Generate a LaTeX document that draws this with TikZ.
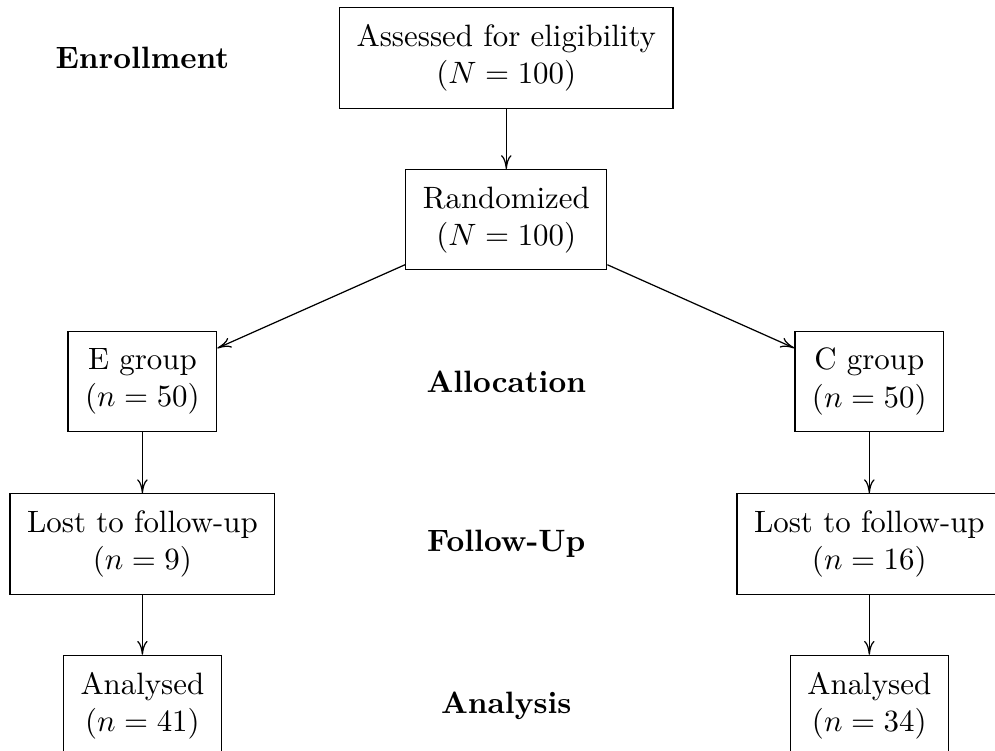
\documentclass[tikz,border=0pt]{standalone}
\usepackage{amsmath}
\usepackage{tikz}
\usetikzlibrary {arrows.meta}

\begin{document}
\begin{tikzpicture}[>={To[length=4.5pt,width=3.4pt]},
                    box/.style={draw,align=center,inner sep=5.5pt},
                    stage/.style={font=\bfseries}]
        \useasboundingbox (0,0) rectangle (11.32,-8.54);
        \node[box] (assess) at (5.76,-0.66) {Assessed for eligibility\\$(N=100)$};%登録
        \node[box] (rand) at (5.76,-2.5) {Randomized\\$(N=100)$};
        \node[box] (egroup) at (1.62,-4.34) {E group\\$(n=50)$};
        \node[box] (cgroup) at (9.89,-4.34) {C group\\$(n=50)$};
        \node[box] (lostE) at (1.62,-6.19) {Lost to follow-up\\$(n=9)$};
        \node[box] (lostC) at (9.89,-6.19) {Lost to follow-up\\$(n=16)$};
        \node[box] (anaE) at (1.62,-8.03) {Analysed\\$(n=41)$};
        \node[box] (anaC) at (9.89,-8.03) {Analysed\\$(n=34)$};

        \node[stage] (enroll) at (1.62,-0.66) {Enrollment};%段階
        \node[stage] (alloc) at (5.76,-4.34) {Allocation};
        \node[stage] (follow) at (5.76,-6.19) {Follow-Up};
        \node[stage] (analysis) at (5.76,-8.03) {Analysis};

        \draw[->](assess)--(rand);
        \draw[->](rand)--(egroup);
        \draw[->](rand)--(cgroup);
        \draw[->](egroup)--(lostE);
        \draw[->](cgroup)--(lostC);
        \draw[->](lostE)--(anaE);
        \draw[->](lostC)--(anaC);
      \end{tikzpicture}
\end{document}
